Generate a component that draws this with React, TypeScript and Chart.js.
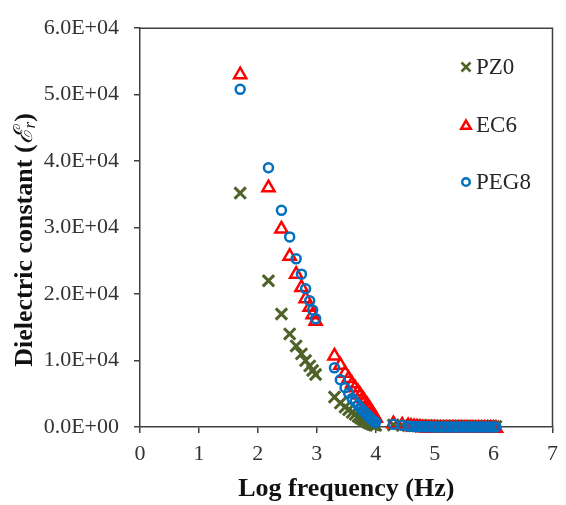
import React, { useEffect, useRef } from "react";
import { Chart, registerables } from "chart.js";

Chart.register(...registerables);

const seriesNames = ["PZ0", "EC6", "PEG8"];

const logFreq = [
  1.70, 2.18, 2.40, 2.54, 2.65, 2.74, 2.81, 2.88, 2.93, 2.98,
  3.30, 3.40, 3.48, 3.54, 3.60, 3.65, 3.70, 3.74, 3.78, 3.81, 3.85, 3.88, 3.90, 3.93, 3.95, 3.98, 4.00,
  4.30, 4.45, 4.55, 4.60, 4.65, 4.70, 4.75, 4.80, 4.85, 4.90, 4.95, 5.00, 5.05, 5.10, 5.15, 5.20, 5.25,
  5.30, 5.35, 5.40, 5.45, 5.50, 5.55, 5.60, 5.65, 5.70, 5.75, 5.80, 5.85, 5.90, 5.95, 6.00, 6.04,
];

const pz0 = [
  35200, 22000, 17000, 14000, 12200, 11000, 10000, 9200, 8500, 7900,
  4500, 3600, 3000, 2600, 2200, 1900, 1600, 1350, 1150, 1000, 800, 650, 560, 450, 380, 300, 250,
  300, 250, 200, 200, 180, 170, 160, 150, 150, 140, 140, 130, 130, 120, 120, 120, 110,
  110, 110, 100, 100, 100, 100, 90, 90, 90, 90, 80, 80, 80, 80, 80, 80,
];

const ec6 = [
  53000, 36000, 29800, 25700, 23000, 21000, 19300, 18000, 16900, 15900,
  10700, 9300, 8100, 7300, 6500, 5900, 5300, 4800, 4300, 3900, 3400, 3000, 2700, 2300, 2000, 1600, 1300,
  500, 300, 200, 100, 50, 0, -50, -100, -100, -150, -150, -150, -200, -200, -200, -200, -200,
  -200, -200, -200, -200, -200, -200, -200, -200, -200, -200, -200, -200, -200, -200, -200, -200,
];

const peg8 = [
  50800, 39000, 32600, 28600, 25300, 23000, 20800, 19000, 17600, 16300,
  8900, 7100, 5900, 5100, 4300, 3800, 3300, 2900, 2500, 2200, 1900, 1600, 1400, 1200, 1000, 850, 700,
  400, 250, 150, 100, 80, 60, 50, 40, 30, 20, 20, 10, 10, 0, 0, 0, 0,
  0, 0, 0, 0, 0, 0, 0, 0, 0, 0, 0, 0, 0, 0, 0, 0,
];

const xTickLabels = ["0", "1", "2", "3", "4", "5", "6", "7"];
const yTickLabels = ["0.0E+00", "1.0E+04", "2.0E+04", "3.0E+04", "4.0E+04", "5.0E+04", "6.0E+04"];

const SERIF = '"Liberation Serif", "Times New Roman", "DejaVu Serif", serif';
const AXIS = "#404040";
const colors = ["#4F6228", "#FF0000", "#0070C0"];
const styles = ["crossRot", "triangle", "circle"];

const toPoints = (ys: number[]) => logFreq.map((x, i) => ({ x, y: ys[i] }));

const framePlugin = {
  id: "frame",
  beforeDatasetsDraw(chart: any) {
    const { ctx, chartArea } = chart;
    ctx.save();
    ctx.strokeStyle = AXIS;
    ctx.lineWidth = 1.5;
    ctx.beginPath();
    ctx.moveTo(chartArea.left, chartArea.top);
    ctx.lineTo(chartArea.right, chartArea.top);
    ctx.lineTo(chartArea.right, chartArea.bottom);
    ctx.stroke();
    ctx.restore();
  },
};

const yTitlePlugin = {
  id: "yTitle",
  afterDraw(chart: any) {
    const { ctx } = chart;
    const parts = [
      { t: "Dielectric constant (", f: `bold 26px ${SERIF}`, dy: 0 },
      { t: "ℰ", f: `italic 26px "DejaVu Serif", ${SERIF}`, dy: 0 },
      { t: "r", f: `italic 17px ${SERIF}`, dy: 6 },
      { t: ")", f: `bold 26px ${SERIF}`, dy: 0 },
    ];
    ctx.save();
    let total = 0;
    const widths = parts.map((p) => {
      ctx.font = p.f;
      const w = ctx.measureText(p.t).width;
      total += w;
      return w;
    });
    ctx.translate(25, 240);
    ctx.rotate(-Math.PI / 2);
    ctx.fillStyle = "#111111";
    ctx.textBaseline = "middle";
    ctx.textAlign = "left";
    let x = -total / 2;
    parts.forEach((p, i) => {
      ctx.font = p.f;
      ctx.fillText(p.t, x, p.dy);
      x += widths[i];
    });
    ctx.restore();
  },
};

const legendPlugin = {
  id: "insideLegend",
  afterDraw(chart: any) {
    const { ctx } = chart;
    const ys = [67, 125, 182];
    const mx = 466;
    ctx.save();
    chart.data.datasets.forEach((ds: any, i: number) => {
      const y = ys[i];
      ctx.strokeStyle = ds.borderColor;
      ctx.lineWidth = 2.5;
      ctx.beginPath();
      if (ds.pointStyle === "crossRot") {
        const r = 4.5;
        ctx.moveTo(mx - r, y - r);
        ctx.lineTo(mx + r, y + r);
        ctx.moveTo(mx - r, y + r);
        ctx.lineTo(mx + r, y - r);
      } else if (ds.pointStyle === "triangle") {
        const r = 5.5;
        for (let k = 0; k < 3; k++) {
          const a = (k * 2 * Math.PI) / 3;
          const px = mx + Math.sin(a) * r;
          const py = y + 1 - Math.cos(a) * r;
          if (k === 0) ctx.moveTo(px, py);
          else ctx.lineTo(px, py);
        }
        ctx.closePath();
      } else {
        ctx.arc(mx, y, 3.8, 0, Math.PI * 2);
      }
      ctx.stroke();
      ctx.fillStyle = "#262626";
      ctx.font = `23px ${SERIF}`;
      ctx.textAlign = "left";
      ctx.textBaseline = "middle";
      ctx.fillText(ds.label, 476, y + 1);
    });
    ctx.restore();
  },
};

export default function App() {
  const ref = useRef<HTMLCanvasElement | null>(null);

  useEffect(() => {
    document.body.style.margin = "0";
    if (!ref.current) return;
    const datasets = [pz0, ec6, peg8].map((ys, i) => ({
      label: seriesNames[i],
      data: toPoints(ys),
      pointStyle: styles[i],
      pointRadius: i === 0 ? 8 : i === 1 ? 7 : 4.5,
      pointBorderWidth: i === 0 ? 3 : 2.5,
      borderColor: colors[i],
      backgroundColor: "rgba(0,0,0,0)",
      pointBackgroundColor: "rgba(0,0,0,0)",
      pointBorderColor: colors[i],
      showLine: false,
      clip: false as any,
      order: 3 - i,
    }));
    const chart = new Chart(ref.current, {
      type: "scatter",
      data: { datasets },
      plugins: [framePlugin, legendPlugin, yTitlePlugin],
      options: {
        animation: false,
        responsive: true,
        maintainAspectRatio: false,
        layout: { padding: { top: 27, right: 7, left: 0, bottom: 0 } },
        plugins: { legend: { display: false }, tooltip: { enabled: false } },
        scales: {
          x: {
            type: "linear",
            min: 0,
            max: 7,
            afterFit: (s: any) => {
              s.height = 78;
            },
            ticks: {
              stepSize: 1,
              color: "#333333",
              font: { family: SERIF, size: 22 },
              padding: 8,
              callback: (v: any) => xTickLabels[Math.round(Number(v))] ?? "",
            },
            grid: { drawOnChartArea: false, drawTicks: true, tickLength: 6, color: AXIS, lineWidth: 1.5 },
            border: { color: AXIS, width: 1.5 },
            title: {
              display: true,
              text: "Log frequency (Hz)",
              color: "#111111",
              font: { family: SERIF, size: 26, weight: "bold" },
              padding: { top: 0, bottom: 0 },
            },
          },
          y: {
            type: "linear",
            min: 0,
            max: 60000,
            afterFit: (s: any) => {
              s.width = 140;
            },
            ticks: {
              stepSize: 10000,
              color: "#333333",
              font: { family: SERIF, size: 22 },
              padding: 15,
              callback: (v: any) => yTickLabels[Math.round(Number(v) / 10000)] ?? "",
            },
            grid: { drawOnChartArea: false, drawTicks: true, tickLength: 6, color: AXIS, lineWidth: 1.5 },
            border: { color: AXIS, width: 1.5 },
            title: { display: false },
          },
        },
      },
    });
    return () => chart.destroy();
  }, []);

  return (
    <div style={{ width: 566, height: 505, position: "relative", background: "#fff" }}>
      <canvas ref={ref} />
    </div>
  );
}
